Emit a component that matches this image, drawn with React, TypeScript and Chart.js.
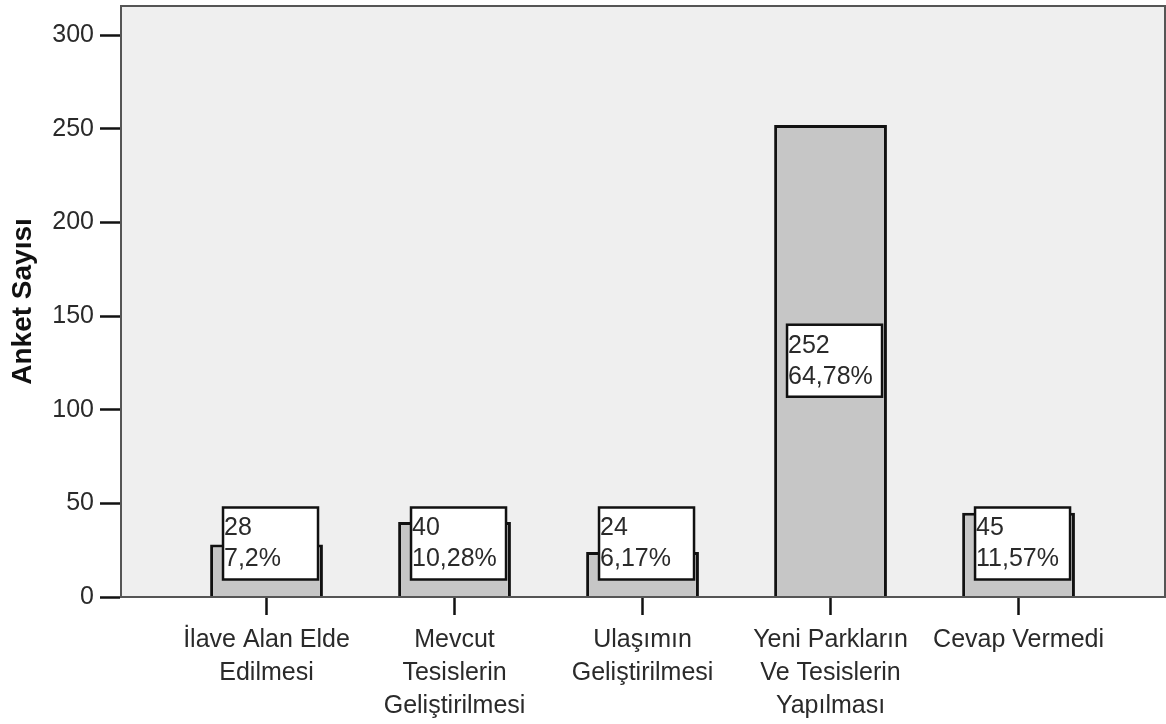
import React, { useEffect, useRef } from "react";
import { Chart, registerables } from "chart.js";

Chart.register(...registerables);

const categoryLines: string[][] = [
  ["İlave Alan Elde", "Edilmesi"],
  ["Mevcut", "Tesislerin", "Geliştirilmesi"],
  ["Ulaşımın", "Geliştirilmesi"],
  ["Yeni Parkların", "Ve Tesislerin", "Yapılması"],
  ["Cevap Vermedi"],
];
const counts: number[] = [28, 40, 24, 252, 45];
const percents: string[] = ["7,2%", "10,28%", "6,17%", "64,78%", "11,57%"];
const yTicks: number[] = [0, 50, 100, 150, 200, 250, 300];
const yTitle = "Anket Sayısı";

const FONT = "'Liberation Sans', Arial, sans-serif";

export default function App() {
  const ref = useRef<HTMLCanvasElement | null>(null);

  useEffect(() => {
    const canvas = ref.current;
    if (!canvas) return;

    const framePlugin = {
      id: "frame",
      beforeDraw(chart: any) {
        const { ctx, chartArea: a } = chart;
        ctx.save();
        ctx.fillStyle = "#efefef";
        ctx.fillRect(a.left, a.top, a.right - a.left, a.bottom - a.top);
        ctx.restore();
      },
      afterDraw(chart: any) {
        const { ctx, chartArea: a } = chart;
        ctx.save();
        ctx.strokeStyle = "#555";
        ctx.lineWidth = 2;
        ctx.strokeRect(a.left, a.top, a.right - a.left, a.bottom - a.top);
        // y-axis title
        ctx.translate(23, (a.top + a.bottom) / 2);
        ctx.rotate(-Math.PI / 2);
        ctx.font = `bold 28px ${FONT}`;
        ctx.fillStyle = "#111";
        ctx.textAlign = "center";
        ctx.textBaseline = "middle";
        ctx.fillText(yTitle, 0, 0);
        ctx.restore();
      },
    };

    const labelPlugin = {
      id: "barLabels",
      afterDatasetsDraw(chart: any) {
        const { ctx } = chart;
        const meta = chart.getDatasetMeta(0);
        ctx.save();
        meta.data.forEach((el: any, i: number) => {
          const base = el.base;
          const mid = (el.y + base) / 2;
          const cy = Math.min(mid, base - 53);
          const w = 95;
          const h = 72;
          const left = el.x - w / 2 + 4;
          const top = cy - h / 2;
          ctx.fillStyle = "#ffffff";
          ctx.fillRect(left, top, w, h);
          ctx.strokeStyle = "#111";
          ctx.lineWidth = 2.5;
          ctx.strokeRect(left, top, w, h);
          ctx.fillStyle = "#2a2a2a";
          ctx.font = `25px ${FONT}`;
          ctx.textAlign = "left";
          ctx.textBaseline = "middle";
          ctx.fillText(String(counts[i]), left + 1, cy - 15);
          ctx.fillText(percents[i], left + 1, cy + 16);
        });
        ctx.restore();
      },
    };

    const chart = new Chart(canvas, {
      type: "bar",
      data: {
        datasets: [
          {
            data: counts.map((v, i) => ({ x: i, y: v })),
            backgroundColor: "#c6c6c6",
            borderColor: "#111",
            borderWidth: 3,
            categoryPercentage: 1,
            barPercentage: 0.6,
          },
        ],
      },
      options: {
        responsive: false,
        animation: false,
        devicePixelRatio: 1,
        layout: { padding: { top: 6, right: 1, left: 0, bottom: 0 } },
        plugins: {
          legend: { display: false },
          tooltip: { enabled: false },
        },
        scales: {
          x: {
            type: "linear",
            min: -0.774,
            max: 4.779,
            offset: false,
            grid: {
              offset: false,
              drawOnChartArea: false,
              drawTicks: true,
              tickLength: 18,
              tickWidth: 2.5,
              tickColor: "#111",
            },
            border: { display: true, color: "#333", width: 2 },
            afterBuildTicks: (scale: any) => {
              scale.ticks = categoryLines.map((_, i) => ({ value: i }));
            },
            afterFit: (scale: any) => {
              scale.height = 127;
              scale.paddingLeft = 0;
              scale.paddingRight = 0;
            },
            ticks: {
              autoSkip: false,
              maxRotation: 0,
              minRotation: 0,
              padding: 9,
              color: "#2a2a2a",
              font: { family: FONT, size: 25, lineHeight: 1.32 },
              callback: (v: any) => categoryLines[Number(v)] ?? "",
            },
          },
          y: {
            type: "linear",
            min: 0,
            max: 315.5,
            grid: {
              drawOnChartArea: false,
              drawTicks: true,
              tickLength: 21,
              tickWidth: 2.5,
              tickColor: "#111",
            },
            border: { display: true, color: "#333", width: 2 },
            afterBuildTicks: (scale: any) => {
              scale.ticks = yTicks.map((v) => ({ value: v }));
            },
            afterFit: (scale: any) => {
              scale.width = 121;
              scale.paddingTop = 0;
              scale.paddingBottom = 0;
            },
            ticks: {
              padding: 6,
              color: "#2a2a2a",
              font: { family: FONT, size: 25 },
              callback: (v: any) => String(v),
            },
          },
        },
      },
      plugins: [framePlugin, labelPlugin],
    });

    return () => chart.destroy();
  }, []);

  return (
    <canvas
      ref={ref}
      width={1166}
      height={724}
      style={{ position: "absolute", left: 0, top: 0, width: 1166, height: 724, display: "block" }}
    />
  );
}
